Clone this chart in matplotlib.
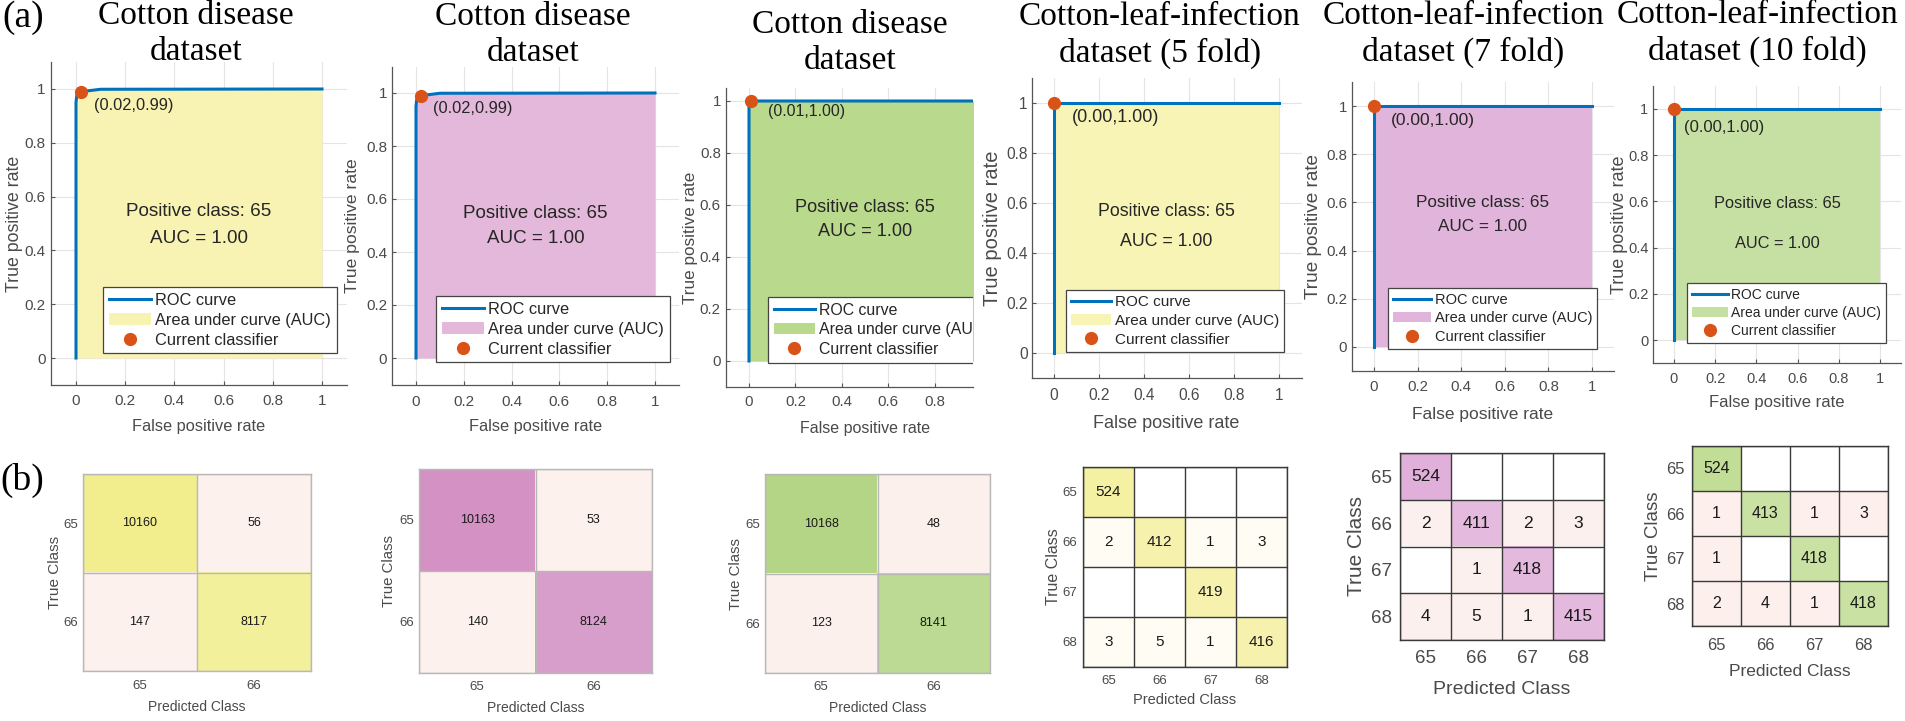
import numpy as np
import matplotlib
matplotlib.use("Agg")
import matplotlib.pyplot as plt
from matplotlib.colors import to_rgb
from matplotlib.transforms import Bbox, TransformedBbox

# ------------------------------------------------------------------ data
roc_titles = ["Cotton disease\ndataset", "Cotton disease\ndataset", "Cotton disease\ndataset",
              "Cotton-leaf-infection\ndataset (5 fold)", "Cotton-leaf-infection\ndataset (7 fold)",
              "Cotton-leaf-infection\ndataset (10 fold)"]
roc_fpr = [[0, 0, 0.003, 0.01, 0.02, 0.1, 1.0],
           [0, 0, 0.003, 0.01, 0.02, 0.1, 1.0],
           [0, 0, 0.004, 0.01, 1.0],
           [0, 0, 1.0],
           [0, 0, 1.0],
           [0, 0, 1.0]]
roc_tpr = [[0, 0.95, 0.975, 0.985, 0.99, 0.999, 1.0],
           [0, 0.95, 0.975, 0.985, 0.99, 0.999, 1.0],
           [0, 0.985, 0.995, 1.0, 1.0],
           [0, 1.0, 1.0],
           [0, 1.0, 1.0],
           [0, 1.0, 1.0]]
op_fpr = [0.02, 0.02, 0.01, 0.00, 0.00, 0.00]
op_tpr = [0.99, 0.99, 1.00, 1.00, 1.00, 1.00]
positive_class = [65, 65, 65, 65, 65, 65]
auc_values = [1.00, 1.00, 1.00, 1.00, 1.00, 1.00]
roc_ticks = [0, 0.2, 0.4, 0.6, 0.8, 1]
roc_tick_labels = ["0", "0.2", "0.4", "0.6", "0.8", "1"]

classes_2 = ["65", "66"]
classes_4 = ["65", "66", "67", "68"]
cm1 = [[10160, 56], [147, 8117]]
cm2 = [[10163, 53], [140, 8124]]
cm3 = [[10168, 48], [123, 8141]]
cm4 = [[524, 0, 0, 0], [2, 412, 1, 3], [0, 0, 419, 0], [3, 5, 1, 416]]
cm5 = [[524, 0, 0, 0], [2, 411, 2, 3], [0, 1, 418, 0], [4, 5, 1, 415]]
cm6 = [[524, 0, 0, 0], [1, 413, 1, 3], [1, 0, 418, 0], [2, 4, 1, 418]]
cms = [cm1, cm2, cm3, cm4, cm5, cm6]
cm_classes = [classes_2, classes_2, classes_2, classes_4, classes_4, classes_4]

# ------------------------------------------------------------------ style / layout
W, H = 1905, 721
SANS = ["Liberation Sans", "DejaVu Sans"]
SERIF = ["Liberation Serif", "DejaVu Serif"]
plt.rcParams["font.family"] = SANS

roc_fill = ["#F8F3B3", "#E3B8DA", "#B9D98C", "#F8F4B5", "#E1B4DB", "#C6E0A3"]
cm_diag = ["#F2EE8E", "#D391C4", "#B3D585", "#F5F1A3", "#E0B0DA", "#C2DD96"]
cm_off = ["#FCF1EC", "#FCF1EC", "#FCF0EC", "#FEFCF3", "#FBF0EE", "#FCEFEC"]
cm_grid = ["#b8b8b8", "#b8b8b8", "#b8b8b8", "#3a3a3a", "#3a3a3a", "#3a3a3a"]
ROC_BLUE = "#0072BD"
DOT = "#D95319"
TXT = "#262626"
TICK = "#4a4a4a"

# pixel geometry of ROC data space: x0 px, px per unit x, y0 px, px per unit y, xmax, ymax
roc_geom = [(76, 246, 358, 269, 1.1, 1.1),
            (416, 239, 358, 265, 1.1, 1.1),
            (749, 232, 361, 260, 0.966, 1.05),
            (1054, 225, 353, 250, 1.1, 1.1),
            (1374, 218, 347, 241, 1.1, 1.1),
            (1674, 206, 340, 231, 1.1, 1.1)]
roc_title_xy = [(196, 34), (533, 35), (850, 43), (1160, 35), (1463, 34), (1757, 33)]
roc_ylabel_x = [15, 353, 690, 992, 1314, 1620]
roc_xlabel_y = [426, 427, 428, 423, 414, 402]
roc_xtick_y = [402, 403, 403, 397, 388, 380]
roc_ytick_gap = [6, 5, 5, 4, 5, 5]
roc_tick_fs = [11, 11, 10.8, 11.2, 10.8, 10.5]
roc_xlabel_fs = [11.8, 11.8, 11.5, 13, 12.5, 12]
roc_ylabel_fs = [12.8, 12.6, 12.3, 14.5, 13.7, 13]
roc_legend_fs = [11.8, 11.8, 11.4, 11.0, 10.5, 10.0]
roc_annot_fs = [11.8, 11.8, 11.4, 13.0, 12.5, 12.0]
roc_pos_fs = [13.6, 13.5, 13.1, 12.8, 12.3, 11.8]
roc_legend_xy = [(103, 287), (436, 296), (768, 297), (1066, 290), (1388, 288), (1687, 283)]
roc_annot_off = [(0.053, 0.053), (0.05, 0.05), (0.072, 0.04), (0.08, 0.06), (0.078, 0.06), (0.05, 0.082)]
roc_pos_y = [(0.543, 0.446), (0.545, 0.45), (0.59, 0.50), (0.564, 0.444), (0.60, 0.50), (0.59, 0.416)]

cm_boxes = [(83, 474, 311, 671), (419, 469, 652, 673), (765, 474, 990, 673),
            (1083, 467, 1287, 667), (1400, 453, 1604, 640), (1692, 446, 1888, 626)]
cm_xlabel_y = [707, 708, 708, 700, 690, 672]
cm_ylabel_x = [55, 389, 736, 1053, 1357, 1653]
cm_xtick_y = [687, 688, 688, 682, 660, 647]
cm_ytick_gap = [5, 5, 5, 6, 8, 7]
cm_num_fs = [9, 9, 9, 11, 12.5, 11.5]
cm_tick_fs = [9.5, 9.5, 9.5, 9.5, 13.5, 12]
cm_xlabel_fs = [10, 10, 10, 10.5, 14, 12.5]
cm_ylabel_fs = [11, 10.8, 10.8, 11.5, 15, 13.5]

PT = 100 / 72.0  # px per point


def frect(l, t, r, b):
    return [l / W, 1 - b / H, (r - l) / W, (b - t) / H]


fig = plt.figure(figsize=(W / 100, H / 100), dpi=100)
fig.patch.set_facecolor("white")

# ------------------------------------------------------------------ ROC panels
for k in range(6):
    x0, xu, y0, yu, xr, yt = roc_geom[k]
    l, r = x0 - 0.1 * xu, x0 + xr * xu
    t, b = y0 - yt * yu, y0 + 0.1 * yu
    ax = fig.add_axes(frect(l, t, r, b))
    ax.set_xlim(-0.1, xr)
    ax.set_ylim(-0.1, yt)
    ax.set_axisbelow(True)
    ax.grid(True, color="#e4e4e4", lw=0.8)
    for s in ("top", "right"):
        ax.spines[s].set_visible(False)
    for s in ("left", "bottom"):
        ax.spines[s].set_color("#555555")
        ax.spines[s].set_linewidth(0.9)
    xt = [(v, lab) for v, lab in zip(roc_ticks, roc_tick_labels) if v <= xr]
    ax.set_xticks([v for v, _ in xt])
    ax.set_xticklabels([lab for _, lab in xt])
    ax.set_yticks(roc_ticks)
    ax.set_yticklabels(roc_tick_labels)
    fs = roc_tick_fs[k]
    xpad = max((roc_xtick_y[k] - b) - 0.55 * fs * PT, 1) / PT
    ax.tick_params(axis="x", direction="in", length=3, width=0.8, color="#555555",
                   labelsize=fs, labelcolor=TICK, pad=xpad)
    ax.tick_params(axis="y", direction="in", length=3, width=0.8, color="#555555",
                   labelsize=fs, labelcolor=TICK, pad=roc_ytick_gap[k] / PT)

    fpr, tpr = roc_fpr[k], roc_tpr[k]
    area = ax.fill_between(fpr, tpr, 0, color=roc_fill[k], lw=0, zorder=1)
    line, = ax.plot(fpr, tpr, color=ROC_BLUE, lw=2.2, zorder=3, solid_joinstyle="round")
    dot, = ax.plot([op_fpr[k]], [op_tpr[k]], "o", color=DOT, ms=8.5, mec=DOT, zorder=4,
                   clip_on=False, linestyle="none")
    dx, dy = roc_annot_off[k]
    ax.text(op_fpr[k] + dx, op_tpr[k] - dy, f"({op_fpr[k]:.2f},{op_tpr[k]:.2f})",
            ha="left", va="center", fontsize=roc_annot_fs[k], color=TXT)
    py1, py2 = roc_pos_y[k]
    ax.text(0.5, py1, f"Positive class: {positive_class[k]}", ha="center", va="center",
            fontsize=roc_pos_fs[k], color=TXT)
    ax.text(0.5, py2, f"AUC = {auc_values[k]:.2f}", ha="center", va="center",
            fontsize=roc_pos_fs[k], color=TXT)

    ax.set_xlabel("False positive rate", fontsize=roc_xlabel_fs[k], color=TICK, va="center")
    ax.xaxis.set_label_coords((x0 + 0.5 * xu - l) / (r - l), (b - roc_xlabel_y[k]) / (b - t))
    ax.set_ylabel("True positive rate", fontsize=roc_ylabel_fs[k], color=TICK, va="center")
    ax.yaxis.set_label_coords((roc_ylabel_x[k] - l) / (r - l), 0.5)

    tx, ty = roc_title_xy[k]
    ax.set_title(roc_titles[k], family=SERIF, fontsize=24, color="black",
                 x=(tx - l) / (r - l), y=(b - ty) / (b - t), pad=0, va="center",
                 linespacing=1.22)

    lx, ly = roc_legend_xy[k]
    leg = ax.legend([line, area, dot], ["ROC curve", "Area under curve (AUC)", "Current classifier"],
                    loc="upper left", bbox_to_anchor=(lx / W, 1 - ly / H),
                    bbox_transform=fig.transFigure, borderaxespad=0, fontsize=roc_legend_fs[k],
                    frameon=True, fancybox=False, edgecolor="#444444", framealpha=1,
                    handlelength=2.6, handletextpad=0.25, labelspacing=0.3, borderpad=0.35,
                    numpoints=1)
    leg.get_frame().set_linewidth(0.9)
    for txt in leg.get_texts():
        txt.set_color(TXT)
    if xr < 1.0:
        clip = TransformedBbox(Bbox.from_extents(0, 0, r / W, 1), fig.transFigure)
        for a in leg.findobj():
            if a is leg:
                continue
            a.set_clip_on(True)
            a.set_clip_box(clip)

# ------------------------------------------------------------------ confusion matrices
for k in range(6):
    data = np.array(cms[k], dtype=float)
    n = data.shape[0]
    l, t, r, b = cm_boxes[k]
    ax = fig.add_axes(frect(l, t, r, b))
    dmax = np.diag(data).max()
    rgb = np.ones((n, n, 3))
    dcol = np.array(to_rgb(cm_diag[k]))
    ocol = np.array(to_rgb(cm_off[k]))
    for i in range(n):
        for j in range(n):
            v = data[i, j]
            if i == j:
                f = 0.4 + 0.6 * v / dmax
                rgb[i, j] = 1 - f * (1 - dcol)
            elif v > 0:
                rgb[i, j] = ocol
    ax.imshow(rgb, aspect="auto", interpolation="nearest")
    for i in range(n):
        for j in range(n):
            v = int(data[i, j])
            if v != 0:
                ax.text(j, i, str(v), ha="center", va="center", fontsize=cm_num_fs[k], color="#1a1a1a")
    ax.set_xticks(np.arange(n))
    ax.set_yticks(np.arange(n))
    ax.set_xticklabels(cm_classes[k])
    ax.set_yticklabels(cm_classes[k])
    ax.set_xticks(np.arange(n + 1) - 0.5, minor=True)
    ax.set_yticks(np.arange(n + 1) - 0.5, minor=True)
    ax.grid(which="minor", color=cm_grid[k], lw=1.0)
    ax.grid(which="major", visible=False)
    ax.tick_params(which="minor", length=0)
    fs = cm_tick_fs[k]
    xpad = max((cm_xtick_y[k] - b) - 0.55 * fs * PT, 1) / PT
    ax.tick_params(axis="x", which="major", length=0, labelsize=fs, labelcolor=TICK, pad=xpad)
    ax.tick_params(axis="y", which="major", length=0, labelsize=fs, labelcolor=TICK,
                   pad=cm_ytick_gap[k] / PT)
    for s in ax.spines.values():
        s.set_color(cm_grid[k])
        s.set_linewidth(1.0)
    ax.set_xlabel("Predicted Class", fontsize=cm_xlabel_fs[k], color=TICK, va="center")
    ax.xaxis.set_label_coords(0.5, (b - cm_xlabel_y[k]) / (b - t))
    ax.set_ylabel("True Class", fontsize=cm_ylabel_fs[k], color=TICK, va="center")
    ax.yaxis.set_label_coords((cm_ylabel_x[k] - l) / (r - l), 0.5)

# panel letters
fig.text(2 / W, 1 - 18 / H, "(a)", family=SERIF, fontsize=27, ha="left", va="center")
fig.text(0 / W, 1 - 480 / H, "(b)", family=SERIF, fontsize=27, ha="left", va="center")

fig.savefig("out.png", dpi=100, facecolor="white")
